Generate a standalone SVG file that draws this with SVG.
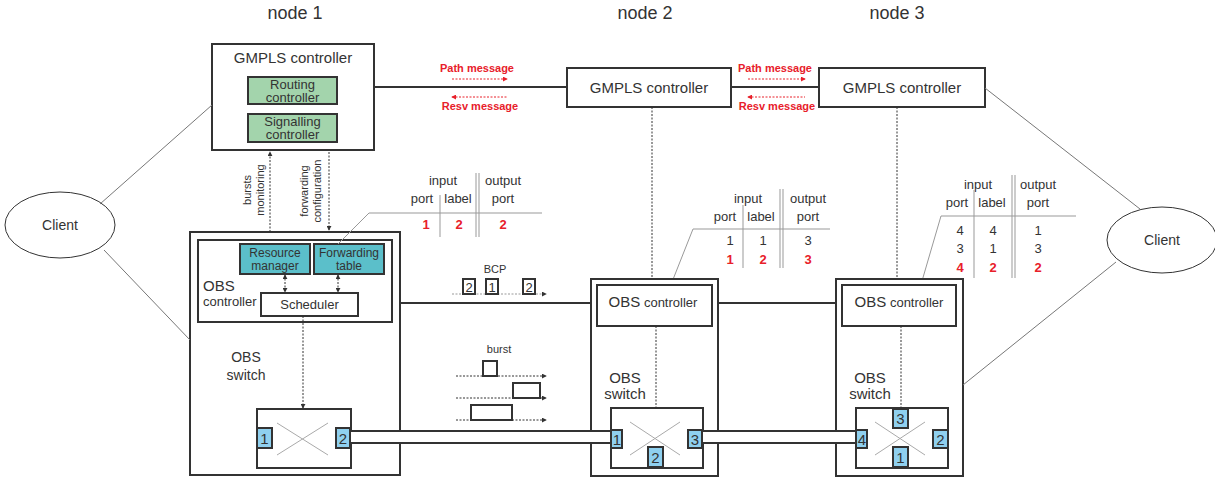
<svg xmlns="http://www.w3.org/2000/svg" width="1215" height="478" viewBox="0 0 1215 478">
<style>
text{font-family:"Liberation Sans",Arial,sans-serif;fill:#333}
.title{font-size:18px}
.t15{font-size:15px}
.t14{font-size:14px}
.t13{font-size:13px}
.t12{font-size:12px}
.t11{font-size:11px}
.pn{font-size:15px}
.red{fill:#e8202a;font-weight:bold}
.redt{fill:#e8202a;font-weight:bold;font-size:11px}
.box{fill:#fff;stroke:#333;stroke-width:2}
.green{fill:#a3d4ac;stroke:#333;stroke-width:2}
.cyan{fill:#5bbfca;stroke:#333;stroke-width:2}
.port{fill:#8fd0ef;stroke:#333;stroke-width:2}
.line{stroke:#333;stroke-width:2;fill:none}
.pipe{fill:#fff;stroke:none}
.thin{stroke:#777;stroke-width:1;fill:none}
.tbl{stroke:#999;stroke-width:1;fill:none}
.dot{stroke:#333;stroke-width:1;stroke-dasharray:2,1.5;fill:none}
.dotr{stroke:#e8202a;stroke-width:1;stroke-dasharray:2,1.5;fill:none}
.dotg{stroke:#999;stroke-width:1;stroke-dasharray:2,1.5;fill:none}
.cross{stroke:#aaa;stroke-width:1}
</style>
<defs>
<marker id="ah" viewBox="0 0 6 6" refX="5" refY="3" markerWidth="5" markerHeight="5" orient="auto-start-reverse" markerUnits="userSpaceOnUse"><path d="M0,0L6,3L0,6z" fill="#333"/></marker>
<marker id="ahr" viewBox="0 0 6 6" refX="5" refY="3" markerWidth="5" markerHeight="5" orient="auto-start-reverse" markerUnits="userSpaceOnUse"><path d="M0,0L6,3L0,6z" fill="#e8202a"/></marker>
</defs>

<g id="titles">
<text class="title" x="295" y="19" text-anchor="middle">node 1</text>
<text class="title" x="645" y="19" text-anchor="middle">node 2</text>
<text class="title" x="897" y="19" text-anchor="middle">node 3</text>
</g>

<g id="client-left">
<ellipse cx="60" cy="225" rx="55" ry="33" fill="#fff" stroke="#333" stroke-width="1"/>
<text class="t14" x="60" y="230" text-anchor="middle">Client</text>
</g>
<g id="client-right">
<ellipse cx="1162" cy="240" rx="55" ry="33" fill="#fff" stroke="#333" stroke-width="1"/>
<text class="t14" x="1162" y="245" text-anchor="middle">Client</text>
</g>

<g id="gmpls1">
<rect class="box" x="212" y="44" width="162" height="106"/>
<text class="t15" x="293" y="63" text-anchor="middle">GMPLS controller</text>
<rect class="green" x="248" y="77" width="89" height="27"/>
<text class="t13" x="292.5" y="89" text-anchor="middle">Routing</text>
<text class="t13" x="292.5" y="102" text-anchor="middle">controller</text>
<rect class="green" x="248" y="114" width="89" height="28"/>
<text class="t13" x="292.5" y="126" text-anchor="middle">Signalling</text>
<text class="t13" x="292.5" y="139" text-anchor="middle">controller</text>
</g>

<g id="gmpls2">
<rect class="box" x="567" y="68" width="164" height="39"/>
<text class="t15" x="649" y="93" text-anchor="middle">GMPLS controller</text>
</g>
<g id="gmpls3">
<rect class="box" x="819" y="68" width="166" height="39"/>
<text class="t15" x="902" y="93" text-anchor="middle">GMPLS controller</text>
</g>

<g id="labels-node1">
<text class="t11" transform="translate(251,190) rotate(-90)" text-anchor="middle">bursts</text>
<text class="t11" transform="translate(264,190) rotate(-90)" text-anchor="middle">monitoring</text>
<text class="t11" transform="translate(308,191) rotate(-90)" text-anchor="middle">forwarding</text>
<text class="t11" transform="translate(321,191) rotate(-90)" text-anchor="middle">configuration</text>
<text class="t11" transform="translate(323,357) rotate(-90)" text-anchor="middle">switch</text>
<text class="t11" transform="translate(336,357) rotate(-90)" text-anchor="middle">configuration</text>
</g>

<g id="obs1">
<rect class="box" x="190" y="232" width="210" height="243"/>
<rect class="box" x="198" y="240" width="194" height="82"/>
<rect class="cyan" x="240" y="244" width="70" height="30"/>
<text class="t12" x="275" y="257" text-anchor="middle">Resource</text>
<text class="t12" x="275" y="270" text-anchor="middle">manager</text>
<rect class="cyan" x="314" y="244" width="70" height="30"/>
<text class="t12" x="349" y="257" text-anchor="middle">Forwarding</text>
<text class="t12" x="349" y="270" text-anchor="middle">table</text>
<rect class="box" x="261" y="293" width="97" height="23"/>
<text class="t13" x="309.5" y="309" text-anchor="middle">Scheduler</text>
<text class="t15" x="203" y="291">OBS</text>
<text class="t13" x="203" y="306">controller</text>
<text class="t14" x="246" y="362" text-anchor="middle">OBS</text>
<text class="t14" x="246" y="380" text-anchor="middle">switch</text>
<rect class="box" x="257" y="409" width="94" height="59"/>
<line class="cross" x1="277" y1="423" x2="328" y2="455"/>
<line class="cross" x1="328" y1="423" x2="277" y2="455"/>
</g>

<g id="table1">
<text class="t13" x="443" y="185" text-anchor="middle">input</text>
<text class="t13" x="503" y="185" text-anchor="middle">output</text>
<text class="t13" x="422" y="203" text-anchor="middle">port</text>
<text class="t13" x="458" y="203" text-anchor="middle">label</text>
<text class="t13" x="503" y="203" text-anchor="middle">port</text>
<path class="tbl" d="M542,213H369L338,244M440,195V237M476,173V237M479,173V237"/>
<text class="t13 red" x="426" y="229" text-anchor="middle">1</text>
<text class="t13 red" x="459" y="229" text-anchor="middle">2</text>
<text class="t13 red" x="503" y="229" text-anchor="middle">2</text>
</g>

<g id="table2">
<text class="t13" x="748" y="203" text-anchor="middle">input</text>
<text class="t13" x="808" y="203" text-anchor="middle">output</text>
<text class="t13" x="725" y="221" text-anchor="middle">port</text>
<text class="t13" x="761" y="221" text-anchor="middle">label</text>
<text class="t13" x="808" y="221" text-anchor="middle">port</text>
<path class="tbl" d="M830,229H693L672,282M743,205V268M780,189V268M783,189V268"/>
<text class="t13" x="730" y="245" text-anchor="middle">1</text>
<text class="t13" x="763" y="245" text-anchor="middle">1</text>
<text class="t13" x="808" y="245" text-anchor="middle">3</text>
<text class="t13 red" x="730" y="264" text-anchor="middle">1</text>
<text class="t13 red" x="763" y="264" text-anchor="middle">2</text>
<text class="t13 red" x="808" y="264" text-anchor="middle">3</text>
</g>

<g id="table3">
<text class="t13" x="978" y="189" text-anchor="middle">input</text>
<text class="t13" x="1038" y="189" text-anchor="middle">output</text>
<text class="t13" x="957" y="207" text-anchor="middle">port</text>
<text class="t13" x="992" y="207" text-anchor="middle">label</text>
<text class="t13" x="1038" y="207" text-anchor="middle">port</text>
<path class="tbl" d="M1076,216H941L922,281M974,190V278M1012,175V278M1015,175V278"/>
<text class="t13" x="960" y="235" text-anchor="middle">4</text>
<text class="t13" x="993" y="235" text-anchor="middle">4</text>
<text class="t13" x="1038" y="235" text-anchor="middle">1</text>
<text class="t13" x="960" y="253" text-anchor="middle">3</text>
<text class="t13" x="993" y="253" text-anchor="middle">1</text>
<text class="t13" x="1038" y="253" text-anchor="middle">3</text>
<text class="t13 red" x="960" y="272" text-anchor="middle">4</text>
<text class="t13 red" x="993" y="272" text-anchor="middle">2</text>
<text class="t13 red" x="1038" y="272" text-anchor="middle">2</text>
</g>

<g id="obs2">
<rect class="box" x="591" y="279" width="127" height="197"/>
<rect class="box" x="597" y="285" width="115" height="41"/>
<text x="653" y="307" text-anchor="middle"><tspan class="t15">OBS</tspan><tspan class="t13"> controller</tspan></text>
<text class="t15" x="625" y="383" text-anchor="middle">OBS</text>
<text class="t15" x="625" y="399" text-anchor="middle">switch</text>
<rect class="box" x="611" y="408" width="92" height="60"/>
<line class="cross" x1="630" y1="422" x2="680" y2="455"/>
<line class="cross" x1="680" y1="422" x2="630" y2="455"/>
</g>

<g id="obs3">
<rect class="box" x="836" y="279" width="127" height="197"/>
<rect class="box" x="842" y="285" width="114" height="41"/>
<text x="899" y="307" text-anchor="middle"><tspan class="t15">OBS</tspan><tspan class="t13"> controller</tspan></text>
<text class="t15" x="870" y="383" text-anchor="middle">OBS</text>
<text class="t15" x="870" y="399" text-anchor="middle">switch</text>
<rect class="box" x="856" y="408" width="92" height="60"/>
<line class="cross" x1="875" y1="422" x2="925" y2="455"/>
<line class="cross" x1="925" y1="422" x2="875" y2="455"/>
</g>

<g id="connectors">
<line class="thin" x1="100" y1="204" x2="212" y2="105"/>
<line class="thin" x1="104" y1="250" x2="190" y2="340"/>
<line class="thin" x1="985" y1="88" x2="1140" y2="209"/>
<line class="thin" x1="1116" y1="262" x2="963" y2="385"/>
<line class="line" x1="374" y1="87" x2="567" y2="87"/>
<line class="line" x1="731" y1="87" x2="819" y2="87"/>
<line class="line" x1="400" y1="303" x2="591" y2="303"/>
<line class="line" x1="718" y1="303" x2="836" y2="303"/>
<line class="dot" x1="652" y1="107" x2="652" y2="279"/>
<line class="dot" x1="897" y1="107" x2="897" y2="279"/>
<line class="dot" x1="656" y1="326" x2="656" y2="408"/>
<line class="dot" x1="901" y1="326" x2="901" y2="409"/>
<line class="dot" x1="270" y1="232" x2="270" y2="152" marker-end="url(#ah)"/>
<line class="dot" x1="329" y1="152" x2="329" y2="230" marker-end="url(#ah)"/>
<line class="dot" x1="285" y1="275" x2="285" y2="292" marker-start="url(#ah)" marker-end="url(#ah)"/>
<line class="dot" x1="338" y1="275" x2="338" y2="292" marker-start="url(#ah)" marker-end="url(#ah)"/>
<line class="dot" x1="303" y1="316" x2="303" y2="408" marker-end="url(#ah)"/>
<line class="dotr" x1="452" y1="79" x2="507" y2="79" marker-end="url(#ahr)"/>
<line class="dotr" x1="452" y1="97" x2="507" y2="97" marker-start="url(#ahr)"/>
<line class="dotr" x1="748" y1="79" x2="805" y2="79" marker-end="url(#ahr)"/>
<line class="dotr" x1="748" y1="97" x2="805" y2="97" marker-start="url(#ahr)"/>
<rect class="pipe" x="350" y="431" width="261" height="12"/>
<path class="line" d="M350,431H611M350,443H611"/>
<rect class="pipe" x="702" y="431" width="154" height="12"/>
<path class="line" d="M702,431H856M702,443H856"/>
</g>

<g id="messages">
<text class="redt" x="477" y="72" text-anchor="middle">Path message</text>
<text class="redt" x="480" y="110" text-anchor="middle">Resv message</text>
<text class="redt" x="775" y="72" text-anchor="middle">Path message</text>
<text class="redt" x="777" y="110" text-anchor="middle">Resv message</text>
</g>

<g id="ports">
<rect class="port" x="257" y="428" width="15" height="20"/>
<text class="pn" x="264.5" y="444" text-anchor="middle">1</text>
<rect class="port" x="336" y="428" width="14" height="20"/>
<text class="pn" x="343" y="444" text-anchor="middle">2</text>
<rect class="port" x="611" y="430" width="11" height="18"/>
<text class="pn" x="617" y="445" text-anchor="middle">1</text>
<rect class="port" x="688" y="430" width="14" height="18"/>
<text class="pn" x="695" y="445" text-anchor="middle">3</text>
<rect class="port" x="648" y="447" width="15" height="20"/>
<text class="pn" x="655.5" y="463" text-anchor="middle">2</text>
<rect class="port" x="893" y="409" width="15" height="19"/>
<text class="pn" x="900.5" y="424" text-anchor="middle">3</text>
<rect class="port" x="856" y="430" width="11" height="18"/>
<text class="pn" x="862" y="445" text-anchor="middle">4</text>
<rect class="port" x="933" y="430" width="15" height="18"/>
<text class="pn" x="940.5" y="445" text-anchor="middle">2</text>
<rect class="port" x="893" y="447" width="15" height="20"/>
<text class="pn" x="900.5" y="463" text-anchor="middle">1</text>
</g>

<g id="bcp">
<text class="t11" x="495" y="273" text-anchor="middle">BCP</text>
<line class="dotg" x1="452" y1="294" x2="546" y2="294" marker-end="url(#ah)"/>
<rect class="box" x="463" y="279" width="12" height="15"/>
<text class="t13" x="469" y="291.5" text-anchor="middle">2</text>
<rect class="box" x="486" y="279" width="12" height="15"/>
<text class="t13" x="492" y="291.5" text-anchor="middle">1</text>
<rect class="box" x="523" y="279" width="12" height="15"/>
<text class="t13" x="529" y="291.5" text-anchor="middle">2</text>
</g>

<g id="bursts">
<text class="t11" x="499" y="353" text-anchor="middle">burst</text>
<line class="dot" x1="456" y1="376" x2="546" y2="376" marker-end="url(#ah)"/>
<line class="dot" x1="456" y1="398" x2="546" y2="398" marker-end="url(#ah)"/>
<line class="dot" x1="456" y1="420" x2="546" y2="420" marker-end="url(#ah)"/>
<rect class="box" x="483" y="361" width="14" height="15"/>
<rect class="box" x="513" y="383" width="27" height="15"/>
<rect class="box" x="471" y="405" width="41" height="15"/>
</g>
</svg>
